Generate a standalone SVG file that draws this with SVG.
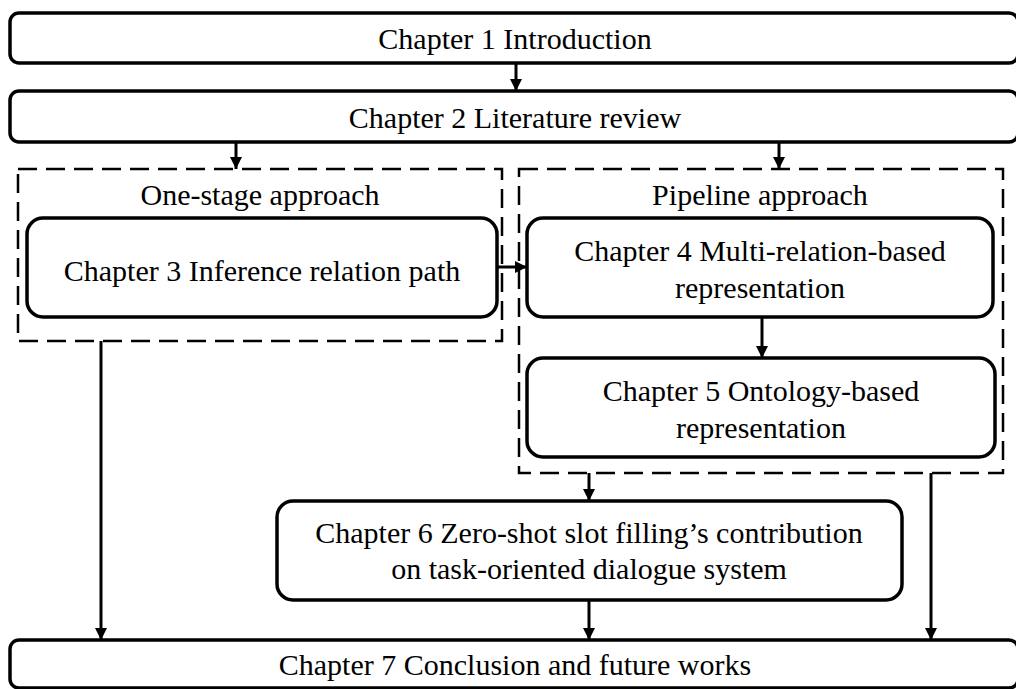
<svg xmlns="http://www.w3.org/2000/svg" width="1016" height="689" viewBox="0 0 1016 689">
<style>
.box{fill:#fff;stroke:#000;stroke-width:3.5}
.grp{fill:none;stroke:#000;stroke-width:2.5;stroke-dasharray:19 9}
.t{font-family:"Liberation Serif","Times New Roman",serif;font-size:30px;fill:#000;text-anchor:middle}
.c{fill:none;stroke:#000;stroke-width:3}
</style>
<defs>
<marker id="ah" markerUnits="userSpaceOnUse" markerWidth="12" markerHeight="12" viewBox="0 0 12 12" refX="12" refY="6" orient="auto">
<path d="M0,0 L12,6 L0,12 Z" fill="#000"/>
</marker>
</defs>
<rect width="1016" height="689" fill="#fff"/>
<g id="group-onestage">
<rect class="grp" x="18" y="169" width="484" height="172"/>
<text class="t" x="260" y="205">One-stage approach</text>
</g>
<g id="group-pipeline">
<rect class="grp" x="519" y="169" width="484" height="304"/>
<text class="t" x="760" y="205">Pipeline approach</text>
</g>
<g id="ch1">
<rect class="box" x="10" y="13" width="1008" height="50" rx="9"/>
<text class="t" x="515" y="49">Chapter 1 Introduction</text>
</g>
<g id="ch2">
<rect class="box" x="10" y="91" width="1008" height="51" rx="9"/>
<text class="t" x="515" y="128">Chapter 2 Literature review</text>
</g>
<g id="ch3">
<rect class="box" x="27" y="218" width="470" height="99" rx="16"/>
<text class="t" x="262" y="281">Chapter 3 Inference relation path</text>
</g>
<g id="ch4">
<rect class="box" x="527" y="218" width="466" height="99" rx="16"/>
<text class="t" x="760" y="261">Chapter 4 Multi-relation-based</text>
<text class="t" x="760" y="298">representation</text>
</g>
<g id="ch5">
<rect class="box" x="527" y="358" width="468" height="99" rx="16"/>
<text class="t" x="761" y="401">Chapter 5 Ontology-based</text>
<text class="t" x="761" y="438">representation</text>
</g>
<g id="ch6">
<rect class="box" x="277" y="501" width="625" height="99" rx="16"/>
<text class="t" x="589" y="543">Chapter 6 Zero-shot slot filling’s contribution</text>
<text class="t" x="589" y="579">on task-oriented dialogue system</text>
</g>
<g id="ch7">
<rect class="box" x="10" y="640" width="1008" height="48" rx="9"/>
<text class="t" x="515" y="675">Chapter 7 Conclusion and future works</text>
</g>
<g id="connectors">
<line class="c" x1="516" y1="63" x2="516" y2="91" marker-end="url(#ah)"/>
<line class="c" x1="236" y1="142" x2="236" y2="169" marker-end="url(#ah)"/>
<line class="c" x1="779" y1="142" x2="779" y2="169" marker-end="url(#ah)"/>
<line class="c" x1="497" y1="267" x2="527" y2="267" marker-end="url(#ah)"/>
<line class="c" x1="762" y1="317" x2="762" y2="358" marker-end="url(#ah)"/>
<line class="c" x1="589" y1="473" x2="589" y2="501" marker-end="url(#ah)"/>
<line class="c" x1="589" y1="600" x2="589" y2="640" marker-end="url(#ah)"/>
<line class="c" x1="101" y1="341" x2="101" y2="640" marker-end="url(#ah)"/>
<line class="c" x1="931" y1="473" x2="931" y2="640" marker-end="url(#ah)"/>
</g>
</svg>
